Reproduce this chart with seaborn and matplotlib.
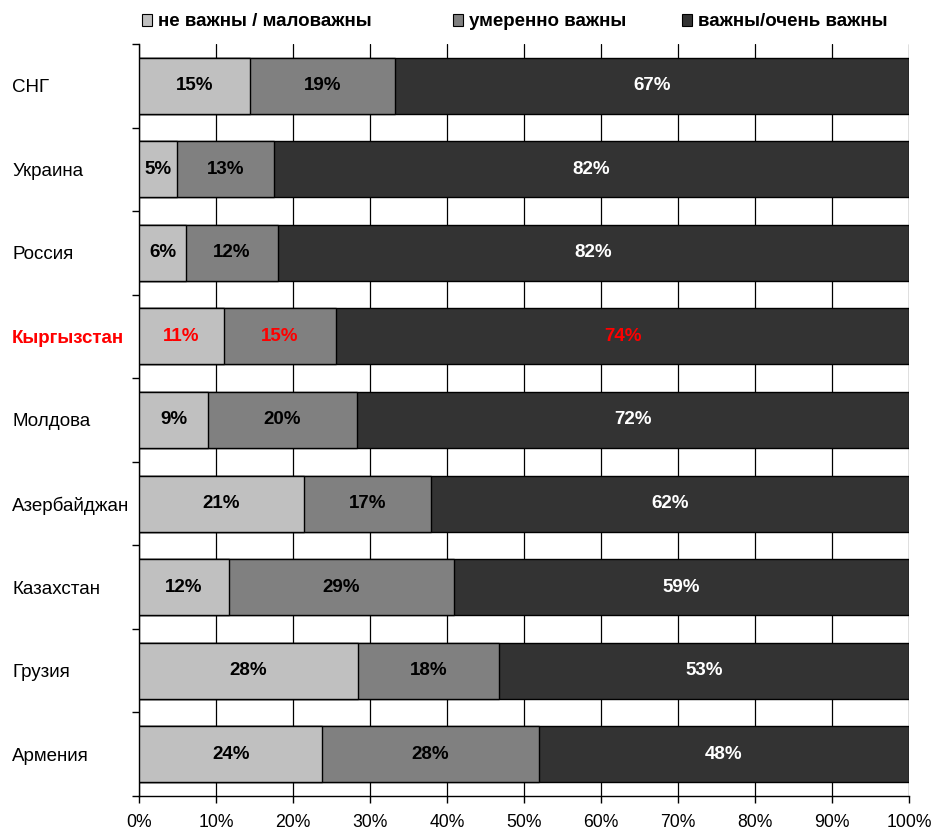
import numpy as np
import pandas as pd
import matplotlib
matplotlib.use("Agg")
import matplotlib.pyplot as plt
import seaborn as sns
from matplotlib.patches import Patch
from matplotlib.ticker import FixedLocator, PercentFormatter

countries = ['СНГ', 'Украина', 'Россия', 'Кыргызстан', 'Молдова',
             'Азербайджан', 'Казахстан', 'Грузия', 'Армения']
# segment widths (%)
low = [14.4, 4.9, 6.1, 11.0, 9.0, 21.4, 11.7, 28.4, 23.8]
mid = [18.9, 12.6, 11.9, 14.6, 19.3, 16.5, 29.2, 18.4, 28.1]
high = [66.7, 82.5, 82.0, 74.4, 71.7, 62.1, 59.1, 53.2, 48.1]
# labels printed on the bars
low_lbl = [15, 5, 6, 11, 9, 21, 12, 28, 24]
mid_lbl = [19, 13, 12, 15, 20, 17, 29, 18, 28]
high_lbl = [67, 82, 82, 74, 72, 62, 59, 53, 48]
series = ['не важны / маловажны', 'умеренно важны', 'важны/очень важны']
colors = ['#c0c0c0', '#808080', '#333333']
highlight = 'Кыргызстан'

sns.set_style('white')
plt.rcParams['font.family'] = ['Liberation Sans', 'DejaVu Sans']
plt.rcParams['text.color'] = 'black'
plt.rcParams['xtick.color'] = 'black'
plt.rcParams['ytick.color'] = 'black'

df = pd.DataFrame({'country': countries, 'low': low, 'mid': mid, 'high': high})
df['c1'] = df['low']
df['c2'] = df['low'] + df['mid']
df['c3'] = df['c2'] + df['high']

fig = plt.figure(figsize=(9.38, 8.32), dpi=100)
ax = fig.add_axes([0.1482, 0.0433, 0.8209, 0.9038])

# stacked look: draw cumulative totals, widest first
for col, c in zip(['c3', 'c2', 'c1'], colors[::-1]):
    sns.barplot(data=df, x=col, y='country', color=c, width=0.67,
                edgecolor='black', linewidth=1, orient='h', ax=ax, zorder=3)

ax.set_xlim(0, 100)
ax.set_ylim(len(countries) - 0.5, -0.5)
ax.xaxis.set_major_locator(FixedLocator(np.arange(0, 101, 10)))
ax.xaxis.set_major_formatter(PercentFormatter(decimals=0))
ax.grid(axis='x', color='black', linewidth=0.9, zorder=0)
ax.set_axisbelow(True)
ax.set_xlabel('')
ax.set_ylabel('')

for s in ['top', 'right']:
    ax.spines[s].set_visible(False)
for s in ['left', 'bottom']:
    ax.spines[s].set_color('black')
    ax.spines[s].set_linewidth(1)

ax.yaxis.set_minor_locator(FixedLocator(np.arange(-0.5, len(countries), 1)))
ax.tick_params(axis='y', which='major', length=0, pad=91.4, labelsize=13.5,
               labelcolor='black')
ax.tick_params(axis='y', which='minor', length=5, width=1, color='black', left=True)
ax.tick_params(axis='x', which='major', length=5, width=1, color='black',
               bottom=True, labelsize=12.7, pad=8, labelcolor='black')

for lab in ax.get_yticklabels():
    lab.set_horizontalalignment('left')
    if lab.get_text() == highlight:
        lab.set_color('red')
        lab.set_fontweight('bold')

for i, row in df.iterrows():
    red = row['country'] == highlight
    starts = [0, row['c1'], row['c2']]
    widths = [row['low'], row['mid'], 100 - row['c2']]
    lbls = [low_lbl[i], mid_lbl[i], high_lbl[i]]
    tcols = ['black', 'black', 'white']
    for s, w, l, tc in zip(starts, widths, lbls, tcols):
        ax.text(s + w / 2, i, f'{l}%', ha='center', va='center',
                fontsize=13.5, fontweight='bold',
                color='red' if red else tc, zorder=5)

# legend entries placed one by one to match the original spacing
leg_x = [142, 453, 682]
for name, c, x in zip(series, colors, leg_x):
    h = Patch(facecolor=c, edgecolor='black', linewidth=0.8)
    fig.legend([h], [name], loc='center left', bbox_to_anchor=(x / 938, 1 - 22 / 832),
               frameon=False, prop={'weight': 'bold', 'size': 13.5},
               handlelength=0.55, handleheight=0.55, handletextpad=0.32,
               borderpad=0, borderaxespad=0, labelcolor='black')

fig.savefig('out.png', dpi=100)
